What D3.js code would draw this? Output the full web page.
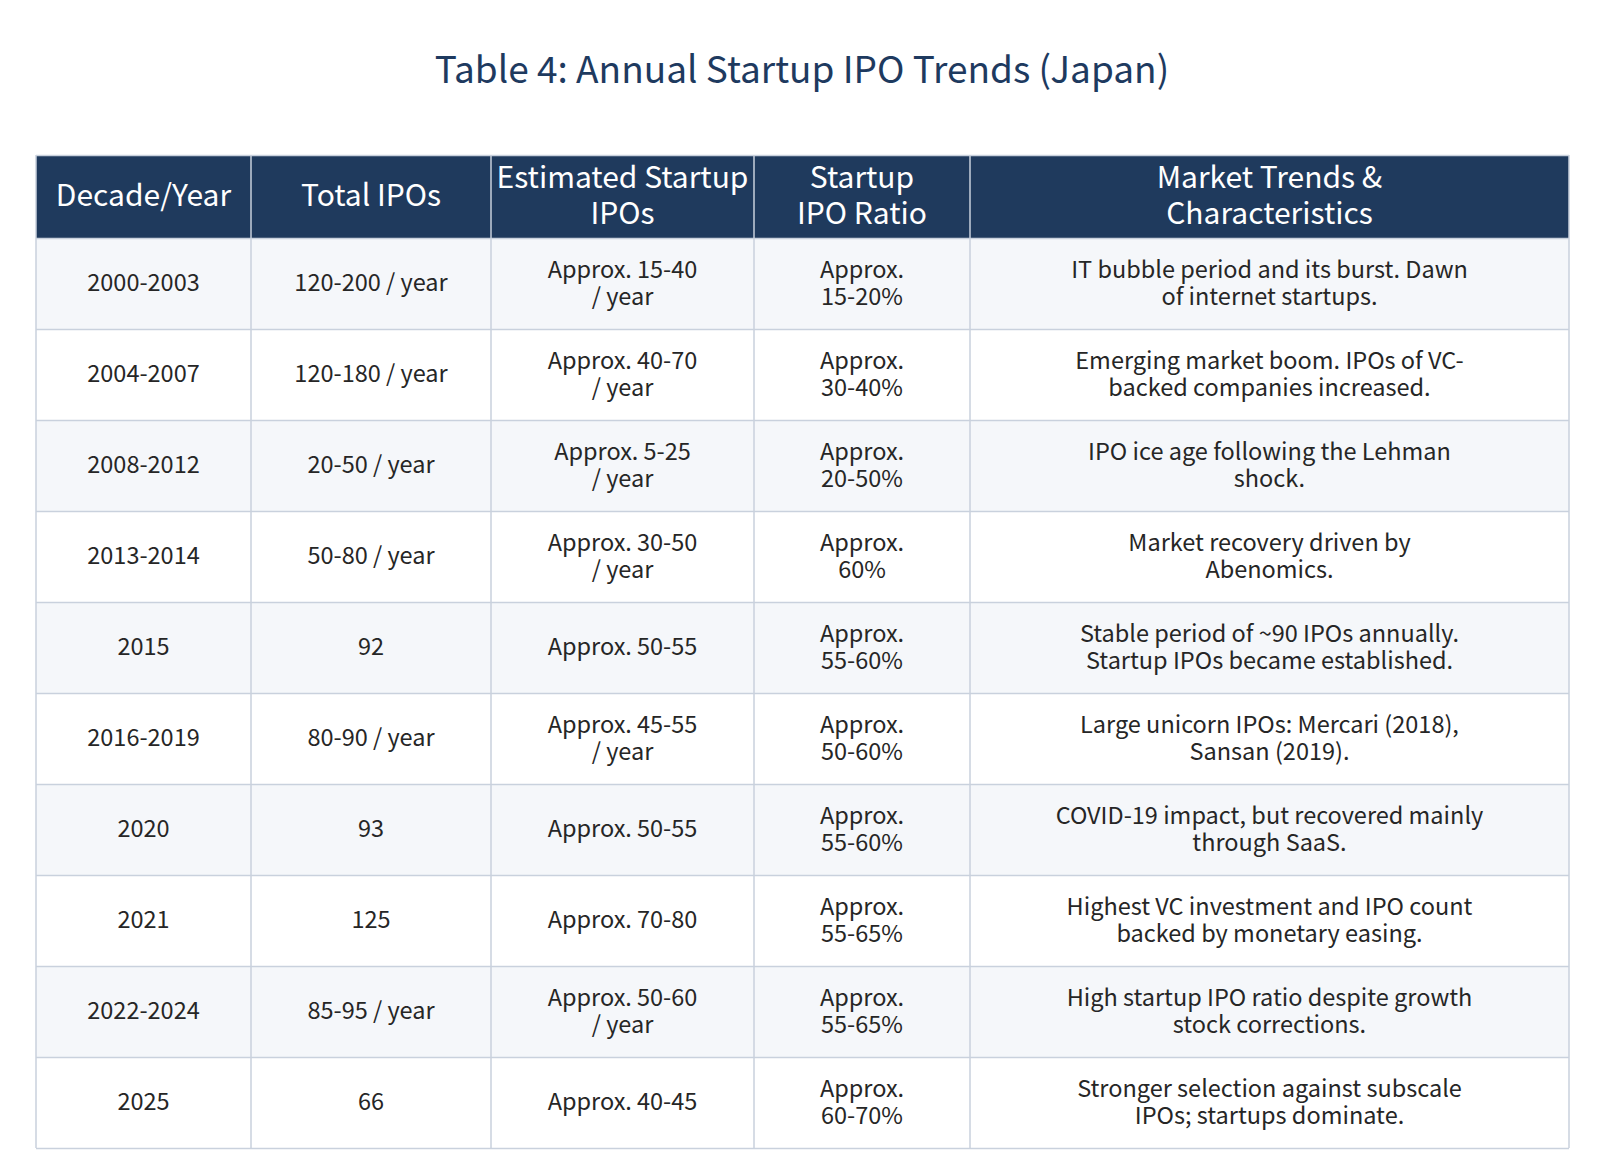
<!DOCTYPE html>
<html>
<head>
<meta charset="utf-8">
<script src="https://cdn.jsdelivr.net/npm/d3@7"></script>
<style>
  body { margin: 0; background: #ffffff; }
  svg text { font-family: "Noto Sans CJK JP", "Source Sans Pro", "Noto Sans", sans-serif; }
</style>
</head>
<body>
<div id="table_div"></div>
<script>
// table content
var title = "Table 4: Annual Startup IPO Trends (Japan)";
var headers = ["Decade/Year", "Total IPOs", "Estimated Startup\nIPOs", "Startup\nIPO Ratio", "Market Trends &\nCharacteristics"];
var years = ["2000-2003", "2004-2007", "2008-2012", "2013-2014", "2015", "2016-2019", "2020", "2021", "2022-2024", "2025"];
var totalIPOs = ["120-200 / year", "120-180 / year", "20-50 / year", "50-80 / year", "92", "80-90 / year", "93", "125", "85-95 / year", "66"];
var startupIPOs = ["Approx. 15-40\n/ year", "Approx. 40-70\n/ year", "Approx. 5-25\n/ year", "Approx. 30-50\n/ year", "Approx. 50-55",
    "Approx. 45-55\n/ year", "Approx. 50-55", "Approx. 70-80", "Approx. 50-60\n/ year", "Approx. 40-45"];
var ratios = ["Approx.\n15-20%", "Approx.\n30-40%", "Approx.\n20-50%", "Approx.\n60%", "Approx.\n55-60%",
    "Approx.\n50-60%", "Approx.\n55-60%", "Approx.\n55-65%", "Approx.\n55-65%", "Approx.\n60-70%"];
var trends = [
    "IT bubble period and its burst. Dawn\nof internet startups.",
    "Emerging market boom. IPOs of VC-\nbacked companies increased.",
    "IPO ice age following the Lehman\nshock.",
    "Market recovery driven by\nAbenomics.",
    "Stable period of ~90 IPOs annually.\nStartup IPOs became established.",
    "Large unicorn IPOs: Mercari (2018),\nSansan (2019).",
    "COVID-19 impact, but recovered mainly\nthrough SaaS.",
    "Highest VC investment and IPO count\nbacked by monetary easing.",
    "High startup IPO ratio despite growth\nstock corrections.",
    "Stronger selection against subscale\nIPOs; startups dominate."
];
var colWidths = [215, 240, 263, 216, 599];

// layout
var outerWidth = 1604,
    outerHeight = 1160,
    tableLeft = 36,
    headerTop = 155,
    headerHeight = 83,
    rowHeight = 91;

var navy = "#1f3a5d",
    border = "#c9d1dd",
    shaded = "#f5f7fa",
    textColor = "#262626";

var rows = years.map(function(y, i) {
    return [y, totalIPOs[i], startupIPOs[i], ratios[i], trends[i]];
});

// column edges from widths
var edges = [tableLeft];
colWidths.forEach(function(w) { edges.push(edges[edges.length - 1] + w); });
var tableRight = edges[edges.length - 1];

var y = d3.scaleBand()
    .domain(d3.range(rows.length))
    .range([headerTop + headerHeight, headerTop + headerHeight + rows.length * rowHeight])
    .padding(0);

var svg = d3.select("#table_div")
    .append("svg")
    .attr("width", outerWidth)
    .attr("height", outerHeight);

// title
svg.append("text")
    .attr("x", outerWidth / 2)
    .attr("y", 83)
    .attr("text-anchor", "middle")
    .style("font-size", "37px")
    .style("fill", "#1e3a5f")
    .text(title);

// write (possibly multi line) text centred in a box
function cellText(g, txt, cx, cy, size, lineGap, color) {
    var lines = txt.split("\n");
    var t = g.append("text")
        .attr("text-anchor", "middle")
        .style("font-size", size + "px")
        .style("fill", color);
    lines.forEach(function(line, k) {
        var off = (k - (lines.length - 1) / 2) * lineGap;
        t.append("tspan")
            .attr("x", cx)
            .attr("y", cy + off + size * 0.34)
            .text(line);
    });
}

// header
var head = svg.append("g").attr("class", "header");
head.append("rect")
    .attr("x", tableLeft)
    .attr("y", headerTop)
    .attr("width", tableRight - tableLeft)
    .attr("height", headerHeight)
    .style("fill", navy);

headers.forEach(function(h, j) {
    cellText(head, h, (edges[j] + edges[j + 1]) / 2, headerTop + headerHeight / 2 - 1, 30, 36, "#ffffff");
});

// body rows
var body = svg.append("g").attr("class", "body");
var rowG = body.selectAll(".row")
    .data(rows)
    .enter().append("g")
    .attr("class", "row");

rowG.append("rect")
    .attr("x", tableLeft)
    .attr("y", function(d, i) { return y(i); })
    .attr("width", tableRight - tableLeft)
    .attr("height", y.bandwidth())
    .style("fill", function(d, i) { return i % 2 == 0 ? shaded : "#ffffff"; });

rowG.each(function(d, i) {
    var g = d3.select(this);
    d.forEach(function(val, j) {
        cellText(g, val, (edges[j] + edges[j + 1]) / 2, y(i) + y.bandwidth() / 2, 23.5, 27, textColor);
    });
});

// grid lines
var grid = svg.append("g").attr("class", "grid");
var hLines = [headerTop, headerTop + headerHeight].concat(d3.range(1, rows.length + 1).map(function(i) {
    return y(i - 1) + y.bandwidth();
}));
grid.selectAll(".hline")
    .data(hLines)
    .enter().append("line")
    .attr("x1", tableLeft)
    .attr("x2", tableRight)
    .attr("y1", function(d) { return d + 0.5; })
    .attr("y2", function(d) { return d + 0.5; })
    .style("stroke", border)
    .style("stroke-width", 1.5);

grid.selectAll(".vline")
    .data(edges)
    .enter().append("line")
    .attr("x1", function(d) { return d; })
    .attr("x2", function(d) { return d; })
    .attr("y1", headerTop)
    .attr("y2", hLines[hLines.length - 1])
    .style("stroke", border)
    .style("stroke-width", 1.5);
</script>
</body>
</html>
